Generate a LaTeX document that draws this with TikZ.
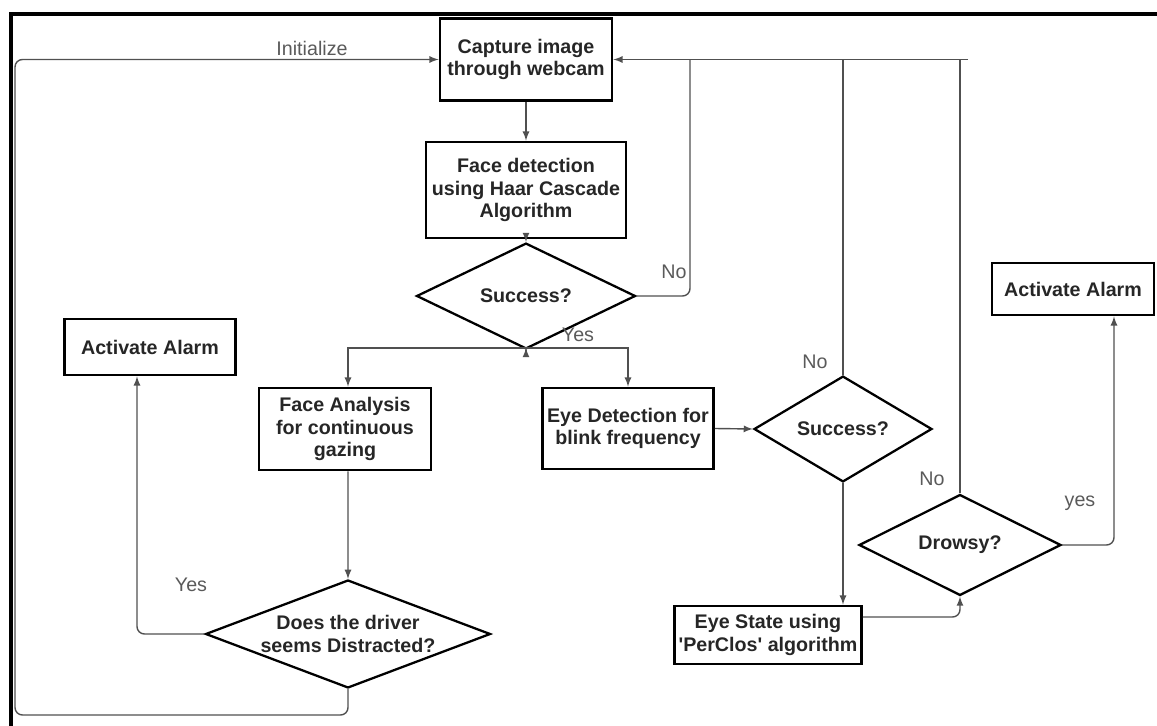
\documentclass[tikz,border=0pt]{standalone}
\usepackage{fontspec}
\setmainfont{Liberation Sans}
\usetikzlibrary{shapes.geometric}
\definecolor{linegray}{HTML}{505050}
\definecolor{labelgray}{HTML}{5A5A5A}
\tikzset{
  box/.style={draw=black,line width=1.6pt,text=black!85,align=center,inner sep=1pt,
    font=\fontsize{11.2}{12.6}\selectfont\bfseries},
  decision/.style={diamond,draw=black,line width=1.3pt,text=black!85,align=center,inner sep=0pt,
    font=\fontsize{11.2}{12.6}\selectfont\bfseries},
  flow/.style={draw=linegray,line width=0.8pt},
  tag/.style={text=labelgray,font=\fontsize{11.2}{13}\selectfont}
}
\begin{document}
\begin{tikzpicture}[x=0.02cm,y=-0.02cm]
            \useasboundingbox (0,0) rectangle (1157,726);
            \draw[line width=2.4pt] (1157,14) -- (11,14) -- (11,726);
            % boxes and decisions
            \node[box,minimum width=3.44cm,minimum height=1.64cm] (cap) at (526,59.5) {Capture image\\through webcam};
            \node[box,minimum width=4.0cm,minimum height=1.92cm] (facedet) at (526,190) {Face detection\\using Haar Cascade\\Algorithm};
            \node[decision,minimum width=4.38cm,minimum height=1.06cm] (dec1) at (526,296) {Success?};
            \node[box,minimum width=3.44cm,minimum height=1.64cm] (facean) at (345,429) {Face Analysis\\for continuous\\gazing};
            \node[box,minimum width=3.42cm,minimum height=1.62cm] (eyedet) at (628,428.5) {Eye Detection for\\blink frequency};
            \node[box,minimum width=3.42cm,minimum height=1.12cm] (alarmL) at (150,347) {Activate Alarm};
            \node[decision,minimum width=5.7cm,minimum height=2.16cm,aspect=2.64] (dist) at (348,634) {Does the driver\\seems Distracted?};
            \node[decision,minimum width=3.56cm,minimum height=1.36cm] (dec2) at (843,429) {Success?};
            \node[box,minimum width=3.74cm,minimum height=1.16cm,inner sep=0pt] (eyestate) at (768,635) {Eye State using\\\textquotesingle PerClos\textquotesingle{} algorithm};
            \node[decision,minimum width=4.04cm,minimum height=1.1cm] (drowsy) at (960,545) {Drowsy?};
            \node[box,minimum width=3.24cm,minimum height=1.04cm] (alarmR) at (1073,289) {Activate Alarm};
            % helper points
            \coordinate (split) at (526,348);
            \coordinate (nobend) at (690,59.5);
            \coordinate (busend) at (968,59.5);
            \coordinate (loopbl) at (15,715);
            % connectors
            \draw[flow,-latex] (cap.south) -- (facedet.north);
            \draw[flow,-latex] (facedet.south) -- (dec1.north);
            \draw[flow,-latex] (dec1.south) -- (split);
            \draw[flow,-latex] (split) -| ([xshift=0.06cm]facean.north);
            \draw[flow,-latex] (split) -| (eyedet.north);
            \draw[flow,rounded corners=0.15cm] (dec1.east) -| (nobend);
            \draw[flow,-latex] (busend) -- (cap.east);
            \draw[flow] (dec2.north) -- (dec2.north |- cap.east);
            \draw[flow] (drowsy.north) -- (drowsy.north |- cap.east);
            \draw[flow,-latex] (eyedet.east) -- (dec2.west);
            \draw[flow,-latex] (dec2.south) -- (dec2.south |- eyestate.north);
            \draw[flow,-latex,rounded corners=0.15cm] ([yshift=0.36cm]eyestate.east) -| (drowsy.south);
            \draw[flow,-latex,rounded corners=0.15cm] (drowsy.east) -| ([xshift=0.82cm]alarmR.south);
            \draw[flow,-latex] ([xshift=0.06cm]facean.south) -- (dist.north);
            \draw[flow,-latex,rounded corners=0.15cm] (dist.west) -| ([xshift=-0.26cm]alarmL.south);
            \draw[flow,-latex,rounded corners=0.15cm] (dist.south) |- (loopbl) |- (cap.west);
            % labels
            \node[tag] (initlbl) at (312,48) {Initialize};
            \node[tag] (yes1) at (578,335) {Yes};
            \node[tag] (no1) at (674,272) {No};
            \node[tag] (no2) at (815,362) {No};
            \node[tag] (no3) at (932,479) {No};
            \node[tag] (yes2) at (1080,503) {yes};
            \node[tag] (yes3) at (191,585) {Yes};
        \end{tikzpicture}
\end{document}
